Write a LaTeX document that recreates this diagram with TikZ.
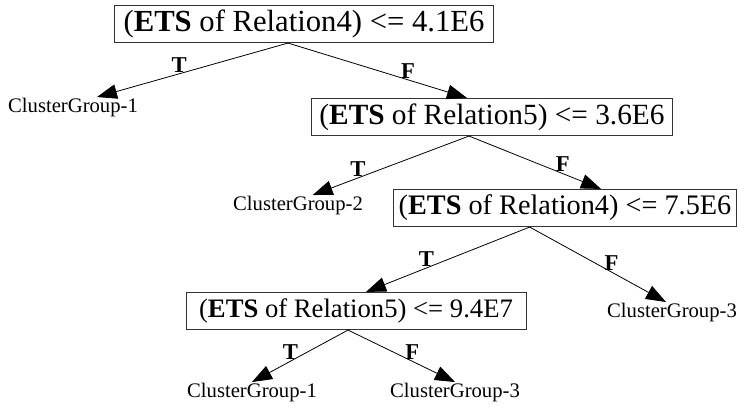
\documentclass[tikz,border=0pt]{standalone}
\usepackage{fontspec}
\setmainfont{Liberation Serif}
\usetikzlibrary{arrows.meta}

\begin{document}
\begin{tikzpicture}[x=0.75pt, y=-0.75pt,
    testbox/.style={draw=black!80, line width=0.6pt, rectangle, minimum height=28pt, inner sep=1pt},
    leaf/.style={inner sep=1pt, font=\fontsize{15.5}{17}\selectfont},
    lbl/.style={anchor=south, inner sep=1pt, font=\fontsize{17}{19}\selectfont\bfseries}]
    \useasboundingbox (0,0) rectangle (740,409);

    % decision nodes
    \node[testbox, minimum width=284pt, font=\fontsize{23}{25}\selectfont] (R1) at (304,24) {(\textbf{ETS} of Relation4) <= 4.1E6};
    \node[testbox, minimum width=271pt, font=\fontsize{22}{24}\selectfont] (R2) at (492,117) {(\textbf{ETS} of Relation5) <= 3.6E6};
    \node[testbox, minimum width=257pt, font=\fontsize{21.2}{23}\selectfont] (R3) at (565,208) {(\textbf{ETS} of Relation4) <= 7.5E6};
    \node[testbox, minimum width=255pt, font=\fontsize{20}{22}\selectfont] (R4) at (356,311) {(\textbf{ETS} of Relation5) <= 9.4E7\hspace{8pt}};

    % leaves
    \node[leaf] (L1) at (73,108) {ClusterGroup-1};
    \node[leaf] (L2) at (298,206) {ClusterGroup-2};
    \node[leaf] (L3) at (672,313) {ClusterGroup-3};
    \node[leaf] (L4) at (252,393) {ClusterGroup-1};
    \node[leaf] (L5) at (455,393) {ClusterGroup-3};

    \path [-{Triangle[length=15pt, width=11pt]}, line width=0.6pt]
        ([xshift=-12pt]R1.south) edge node[lbl, pos=0.57] {T} ([xshift=18pt]L1.north)
        ([xshift=-12pt]R1.south) edge node[lbl, pos=0.67] {F} ([xshift=-18.75pt]R2.north)
        ([xshift=-17.25pt]R2.south) edge node[lbl, pos=0.71] {T} ([xshift=11pt]L2.north)
        ([xshift=-17.25pt]R2.south) edge node[lbl, pos=0.71] {F} ([xshift=27pt]R3.north)
        ([xshift=-26.5pt]R3.south) edge node[lbl, pos=0.63] {T} ([xshift=7.5pt]R4.north)
        ([xshift=-26.5pt]R3.south) edge node[lbl, pos=0.6] {F} ([xshift=-4.5pt]L3.north)
        ([xshift=-6pt]R4.south) edge node[lbl, pos=0.6] {T} (L4.north)
        ([xshift=-6pt]R4.south) edge node[lbl, pos=0.6] {F} (L5.north);
\end{tikzpicture}
\end{document}
